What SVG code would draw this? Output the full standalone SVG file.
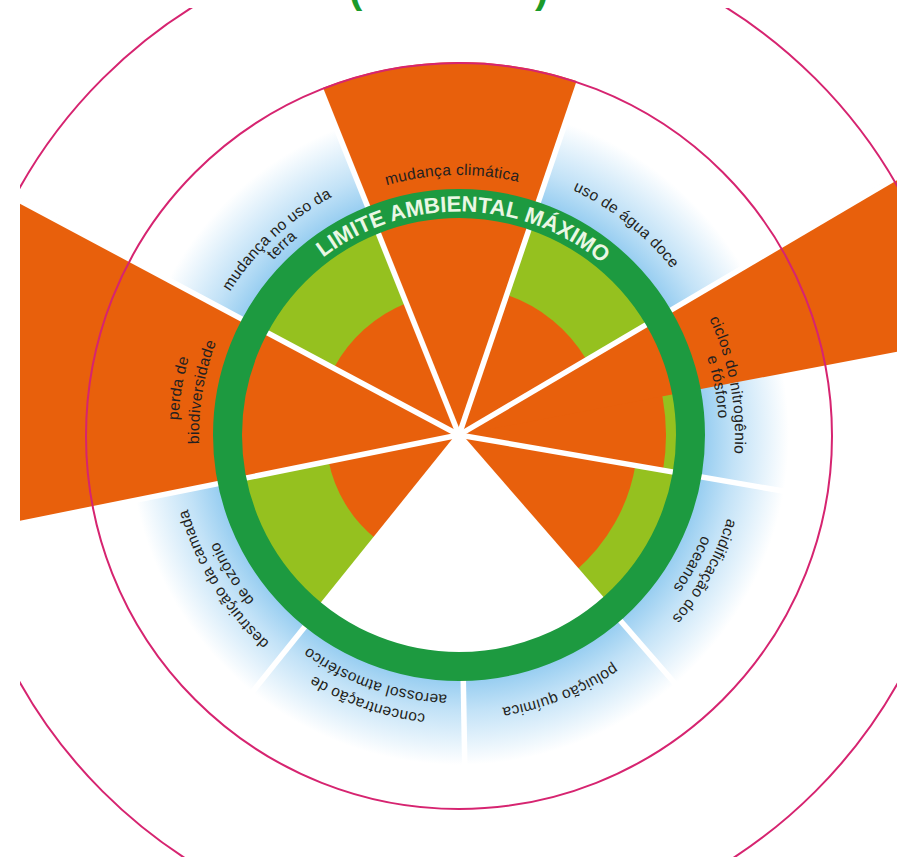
<svg xmlns="http://www.w3.org/2000/svg" width="900" height="861" viewBox="0 0 900 861">
<style>
.lbl{font-family:"Liberation Sans",Arial,sans-serif;font-size:15.5px;letter-spacing:0.3px;fill:#231f20}
.ringt{font-family:"Liberation Sans",Arial,sans-serif;font-size:22px;font-weight:bold;fill:#eaf7e4}
.title{font-family:"Liberation Sans",Arial,sans-serif;font-size:40px;font-weight:bold;fill:#1a9a2a}
.or{fill:#e8600c}
.lg{fill:#95c11f}
.mag{fill:none;stroke:#d62470;stroke-width:2}
.spoke{stroke:#fff;stroke-width:5.5}
</style>
<defs>
<clipPath id="clip"><rect x="20" y="8" width="877" height="849"/></clipPath>
<radialGradient id="blue" cx="459" cy="435" r="340" gradientUnits="userSpaceOnUse">
<stop offset="0" stop-color="#fff"/>
<stop offset="0.7" stop-color="#fff"/>
<stop offset="0.71" stop-color="#92cbf0"/>
<stop offset="0.81" stop-color="#c2e2f7"/>
<stop offset="0.97" stop-color="#fff"/>
</radialGradient>
<path id="w40" d="M0,0 L-0.34202,-0.93969 A1,1 0 0 1 0.34202,-0.93969 Z"/>
<path id="w20" d="M0,0 L-0.17365,-0.98481 A1,1 0 0 1 0.17365,-0.98481 Z"/>
<path id="w80" d="M0,0 L-0.64279,-0.76604 A1,1 0 0 1 0.64279,-0.76604 Z"/>
<path id="a223" d="M265.44,323.25 A223.5,223.5 0 0 1 652.56,323.25"/>
<path id="a255" d="M238.16,307.5 A255,255 0 0 1 679.84,307.5"/>
<path id="a260" d="M233.83,305 A260,260 0 0 1 684.17,305"/>
<path id="a263" d="M231.23,303.5 A263,263 0 0 1 686.77,303.5"/>
<path id="a270" d="M225.17,300 A270,270 0 0 1 692.83,300"/>
<path id="a276" d="M219.98,297 A276,276 0 0 1 698.02,297"/>
<path id="a281" d="M215.64,294.5 A281,281 0 0 1 702.36,294.5"/>
</defs>

<g id="title">
<text class="title" x="349" y="3">(</text>
<text class="title" x="535" y="3">)</text>
</g>

<g clip-path="url(#clip)">
<g id="background">
<circle cx="459" cy="435" r="340" fill="url(#blue)"/>
<circle class="lg" cx="459" cy="435" r="232"/>
<use href="#w80" fill="#fff" transform="translate(459,435) rotate(178.9) scale(232)"/>
</g>

<g id="climate">
<use href="#w40" class="or" transform="translate(459,435) rotate(-1.5) scale(373)"/>
<text class="lbl" text-anchor="middle" transform="rotate(-1.5 459 435)"><textPath href="#a260" startOffset="50%">mudança climática</textPath></text>
</g>

<g id="freshwater">
<use href="#w40" class="or" transform="translate(459,435) rotate(39.15) scale(148)"/>
<text class="lbl" text-anchor="middle" transform="rotate(38.5 459 435)"><textPath href="#a270" startOffset="50%">uso de água doce</textPath></text>
</g>

<g id="nitrogen-phosphorus">
<use href="#w40" class="or" transform="translate(459,435) rotate(79.65) scale(207)"/>
<use href="#w20" class="or" transform="translate(459,435) rotate(69.25) scale(700)"/>
<text class="lbl" text-anchor="middle" transform="rotate(79.5 459 435)"><textPath href="#a276" startOffset="50%">ciclos do nitrogênio</textPath></text>
<text class="lbl" text-anchor="middle" transform="rotate(79.5 459 435)"><textPath href="#a260" startOffset="50%">e fósforo</textPath></text>
</g>

<g id="ocean">
<use href="#w40" class="or" transform="translate(459,435) rotate(119.4) scale(179)"/>
<text class="lbl" text-anchor="middle" transform="rotate(119 459 435)"><textPath href="#a281" startOffset="50%">acidificação dos</textPath></text>
<text class="lbl" text-anchor="middle" transform="rotate(119 459 435)"><textPath href="#a263" startOffset="50%">oceanos</textPath></text>
</g>

<g id="chemical">
<text class="lbl" text-anchor="middle" transform="rotate(158.5 459 435)"><textPath href="#a276" startOffset="50%">poluição química</textPath></text>
</g>

<g id="aerosol">
<text class="lbl" text-anchor="middle" transform="rotate(199 459 435)"><textPath href="#a281" startOffset="50%">concentração de</textPath></text>
<text class="lbl" text-anchor="middle" transform="rotate(199 459 435)"><textPath href="#a260" startOffset="50%">aerossol atmosférico</textPath></text>
</g>

<g id="ozone">
<use href="#w40" class="or" transform="translate(459,435) rotate(238.7) scale(133)"/>
<text class="lbl" text-anchor="middle" transform="rotate(238.6 459 435)"><textPath href="#a281" startOffset="50%">destruição da camada</textPath></text>
<text class="lbl" text-anchor="middle" transform="rotate(238.6 459 435)"><textPath href="#a263" startOffset="50%">de ozônio</textPath></text>
</g>

<g id="biodiversity">
<use href="#w40" class="or" transform="translate(459,435) rotate(278.35) scale(700)"/>
<text class="lbl" text-anchor="middle" transform="rotate(279.5 459 435)"><textPath href="#a281" startOffset="50%">perda de</textPath></text>
<text class="lbl" text-anchor="middle" transform="rotate(279.5 459 435)"><textPath href="#a260" startOffset="50%">biodiversidade</textPath></text>
</g>

<g id="landuse">
<use href="#w40" class="or" transform="translate(459,435) rotate(318.15) scale(142)"/>
<text class="lbl" text-anchor="middle" transform="rotate(317 459 435)"><textPath href="#a270" startOffset="50%">mudança no uso da</textPath></text>
<text class="lbl" text-anchor="middle" transform="rotate(317 459 435)"><textPath href="#a255" startOffset="50%">terra</textPath></text>
</g>

<g id="spokes" class="spoke">
<line x1="0" y1="0" x2="0" y2="-700" transform="translate(459,435) rotate(18.8)"/>
<line x1="0" y1="0" x2="0" y2="-700" transform="translate(459,435) rotate(59.5)"/>
<line x1="0" y1="0" x2="0" y2="-700" transform="translate(459,435) rotate(99.8)"/>
<line x1="0" y1="0" x2="0" y2="-700" transform="translate(459,435) rotate(139)"/>
<line x1="0" y1="0" x2="0" y2="-700" transform="translate(459,435) rotate(179)"/>
<line x1="0" y1="0" x2="0" y2="-700" transform="translate(459,435) rotate(218.8)"/>
<line x1="0" y1="0" x2="0" y2="-700" transform="translate(459,435) rotate(258.6)"/>
<line x1="0" y1="0" x2="0" y2="-700" transform="translate(459,435) rotate(298.1)"/>
<line x1="0" y1="0" x2="0" y2="-700" transform="translate(459,435) rotate(338.2)"/>
</g>

<g id="limit-ring">
<circle cx="459" cy="435" r="231.5" fill="none" stroke="#1d9a40" stroke-width="29"/>
<text class="ringt" text-anchor="middle" transform="rotate(1.25 459 435)"><textPath href="#a223" startOffset="50%">LIMITE AMBIENTAL MÁXIMO</textPath></text>
</g>

<g id="circles">
<circle class="mag" cx="459" cy="436" r="373"/>
<circle class="mag" cx="459" cy="435" r="504"/>
</g>
</g>
</svg>
